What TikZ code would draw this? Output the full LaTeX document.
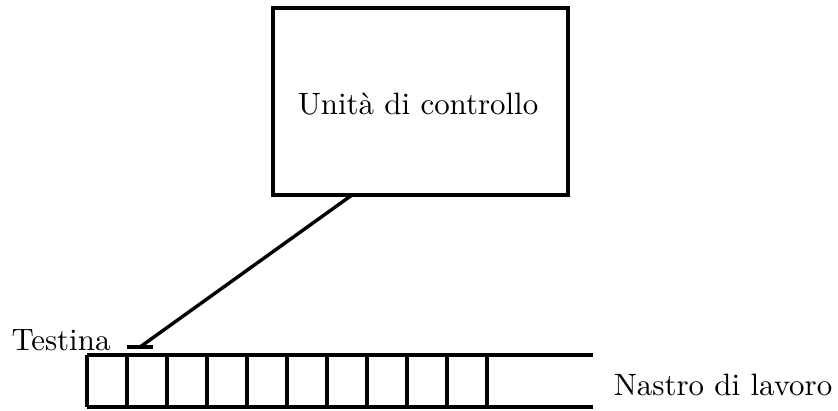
\documentclass[tikz,border=0pt]{standalone}
\usepackage{fontspec}
\begin{document}
\begin{tikzpicture}[x=0.3236pt,y=-0.3236pt,
  line width=1.1pt,
  ctrlbox/.style={draw,rectangle,minimum width=295*0.3236pt,minimum height=187*0.3236pt,inner sep=0pt},
  lbl/.style={inner sep=0pt,font=\fontsize{10}{12}\selectfont}]
\useasboundingbox (0,0) rectangle (838,410);
% control unit
\node[ctrlbox,lbl] (cu) at (420.5,101.5) {};
\node[lbl] (cutext) at (418,104) {Unità di controllo};
% tape: two long edges and cell separators
\coordinate (tl) at (87,355);
\coordinate (tr) at (593,355);
\coordinate (bl) at (87,407);
\coordinate (br) at (593,407);
\draw (tl) -- (tr);
\draw (bl) -- (br);
\foreach \i in {0,...,10}{
  \draw ({87+40*\i},355) -- ({87+40*\i},407);
}
% read/write head
\coordinate (hl) at (127,347);
\coordinate (hr) at (153,347);
\coordinate (hm) at (140,347);
\coordinate (cuattach) at (352,195);
\draw (hl) -- (hr);
\draw (cuattach) -- (hm);
% labels
\node[lbl] (testina) at (61,340) {Testina};
\node[lbl] (nastro) at (723,385) {Nastro di lavoro};
\end{tikzpicture}
\end{document}
